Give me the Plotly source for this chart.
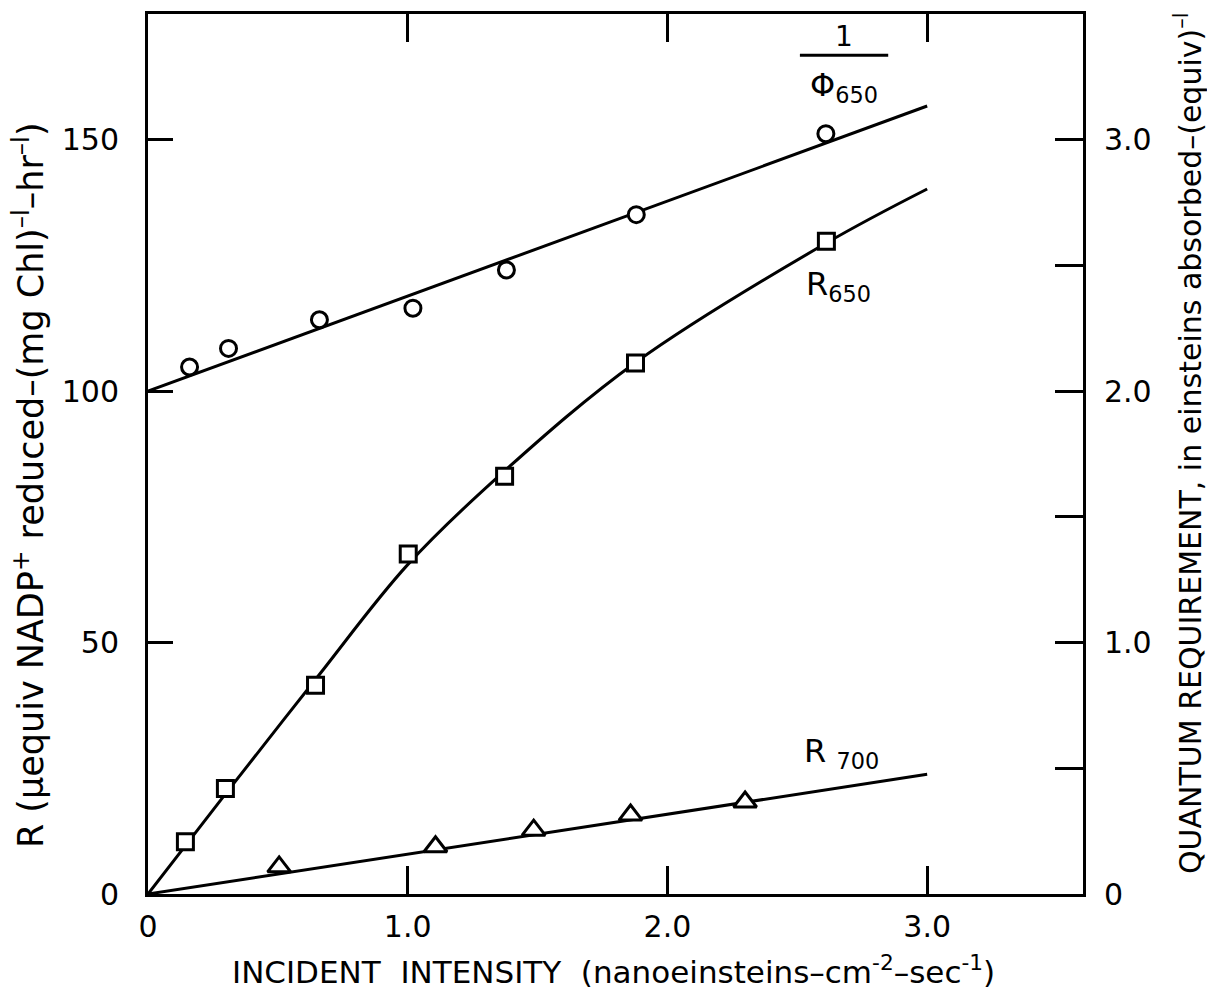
import plotly.graph_objects as go

# ---- data ----
intensity_phi = [0.16, 0.31, 0.66, 1.02, 1.38, 1.88, 2.61]
inv_phi650 = [104.8, 108.5, 114.2, 116.5, 124.1, 135.1, 151.2]   # left-scale units (right scale = /50)
phi_fit_x = [0.0, 3.0]
phi_fit_y = [100.0, 156.7]

intensity_r650 = [0.144, 0.298, 0.645, 1.002, 1.373, 1.877, 2.612]
r650 = [10.4, 21.0, 41.5, 67.6, 83.1, 105.6, 129.8]
r650_curve_x = [0.0, 0.3, 0.65, 1.0, 1.37, 1.88, 2.61, 3.0]
r650_curve_y = [0.0, 20.0, 43.0, 65.5, 84.0, 105.8, 129.4, 140.2]

intensity_r700 = [0.505, 1.107, 1.485, 1.858, 2.299]
r700 = [5.4, 9.4, 12.7, 15.7, 18.3]
r700_fit_x = [0.0, 3.0]
r700_fit_y = [0.0, 23.8]

x_ticks = [0, 1, 2, 3]
x_ticktext = ["0", "1.0", "2.0", "3.0"]
left_ticks = [0, 50, 100, 150]
right_ticks = [0, 0.5, 1.0, 1.5, 2.0, 2.5, 3.0, 3.5]
right_ticktext = ["0", "", "1.0", "", "2.0", "", "3.0", ""]

FONT = "DejaVu Sans"
fig = go.Figure()

line_style = dict(color="black", width=3)
fig.add_trace(go.Scatter(x=phi_fit_x, y=phi_fit_y, mode="lines", line=line_style, showlegend=False))
fig.add_trace(go.Scatter(x=r650_curve_x, y=r650_curve_y, mode="lines",
                         line=dict(color="black", width=3, shape="spline", smoothing=1.0), showlegend=False))
fig.add_trace(go.Scatter(x=r700_fit_x, y=r700_fit_y, mode="lines", line=line_style, showlegend=False))

fig.add_trace(go.Scatter(x=intensity_phi, y=inv_phi650, mode="markers",
                         marker=dict(symbol="circle", size=16, color="white", line=dict(color="black", width=3)),
                         showlegend=False))
fig.add_trace(go.Scatter(x=intensity_r650, y=r650, mode="markers",
                         marker=dict(symbol="square", size=16, color="white", line=dict(color="black", width=3)),
                         showlegend=False))
fig.add_trace(go.Scatter(x=intensity_r700, y=r700, mode="markers",
                         marker=dict(symbol="triangle-up", size=20, color="white", line=dict(color="black", width=3)),
                         showlegend=False))
# invisible trace to activate right axis
fig.add_trace(go.Scatter(x=[0], y=[0], yaxis="y2", mode="markers", marker=dict(opacity=0), showlegend=False,
                         hoverinfo="skip"))

fig.update_layout(
    width=1207, height=995,
    margin=dict(l=148, r=124, t=14, b=101),
    paper_bgcolor="white", plot_bgcolor="white",
    font=dict(family=FONT, color="black", size=26),
    xaxis=dict(range=[0, 3.6], tickvals=x_ticks, ticktext=x_ticktext, ticks="inside", ticklen=28,
               tickwidth=3, tickcolor="black", showline=True, linecolor="black", linewidth=3,
               mirror="ticks", showgrid=False, zeroline=False, ticklabelstandoff=4,
               tickfont=dict(size=30, family=FONT)),
    yaxis=dict(range=[0, 175], tickvals=left_ticks, ticks="inside", ticklen=25, tickwidth=3,
               tickcolor="black", showline=True, linecolor="black", linewidth=3, showgrid=False,
               zeroline=False, ticklabelstandoff=20, tickfont=dict(size=30, family=FONT)),
    yaxis2=dict(range=[0, 3.5], overlaying="y", side="right", tickvals=right_ticks, ticktext=right_ticktext,
                ticks="inside", ticklen=28, tickwidth=3, tickcolor="black", showline=True,
                linecolor="black", linewidth=3, showgrid=False, zeroline=False, ticklabelstandoff=12,
                tickfont=dict(size=30, family=FONT)),
    annotations=[
        dict(text="INCIDENT  INTENSITY  (nanoeinsteins\u2013cm<sup>-2</sup>\u2013sec<sup>-1</sup>)",
             xref="paper", yref="paper", x=0.498, y=-0.086, xanchor="center", yanchor="middle",
             showarrow=False, font=dict(size=31, family=FONT)),
        dict(text="R (\u03bcequiv NADP<sup>+</sup> reduced\u2013(mg Chl)<sup>\u2013l</sup>\u2013hr<sup>\u2013l</sup>)",
             xref="paper", yref="paper", x=-0.128, y=0.465, textangle=-90, xanchor="center", yanchor="middle",
             showarrow=False, font=dict(size=35, family=FONT)),
        dict(text="QUANTUM REQUIREMENT, in einsteins absorbed\u2013(equiv)<sup>\u2013l</sup>",
             xref="paper", yref="paper", x=1.113, y=0.512, textangle=-90, xanchor="center", yanchor="middle",
             showarrow=False, font=dict(size=30, family=FONT)),
        dict(text="1", x=2.68, y=170.5, xref="x", yref="y", showarrow=False, font=dict(size=28, family=FONT)),
        dict(text="\u03a6<sub>650</sub>", x=2.68, y=160.5, xref="x", yref="y", showarrow=False,
             font=dict(size=32, family=FONT)),
        dict(text="R<sub>650</sub>", x=2.66, y=121.0, xref="x", yref="y", showarrow=False,
             font=dict(size=32, family=FONT)),
        dict(text="R <sub>700</sub>", x=2.67, y=28.0, xref="x", yref="y", showarrow=False,
             font=dict(size=32, family=FONT)),
    ],
    shapes=[dict(type="line", xref="x", yref="y", x0=2.51, x1=2.85, y0=166.8, y1=166.8,
                 line=dict(color="black", width=3))],
)

fig.write_html("out.html")
